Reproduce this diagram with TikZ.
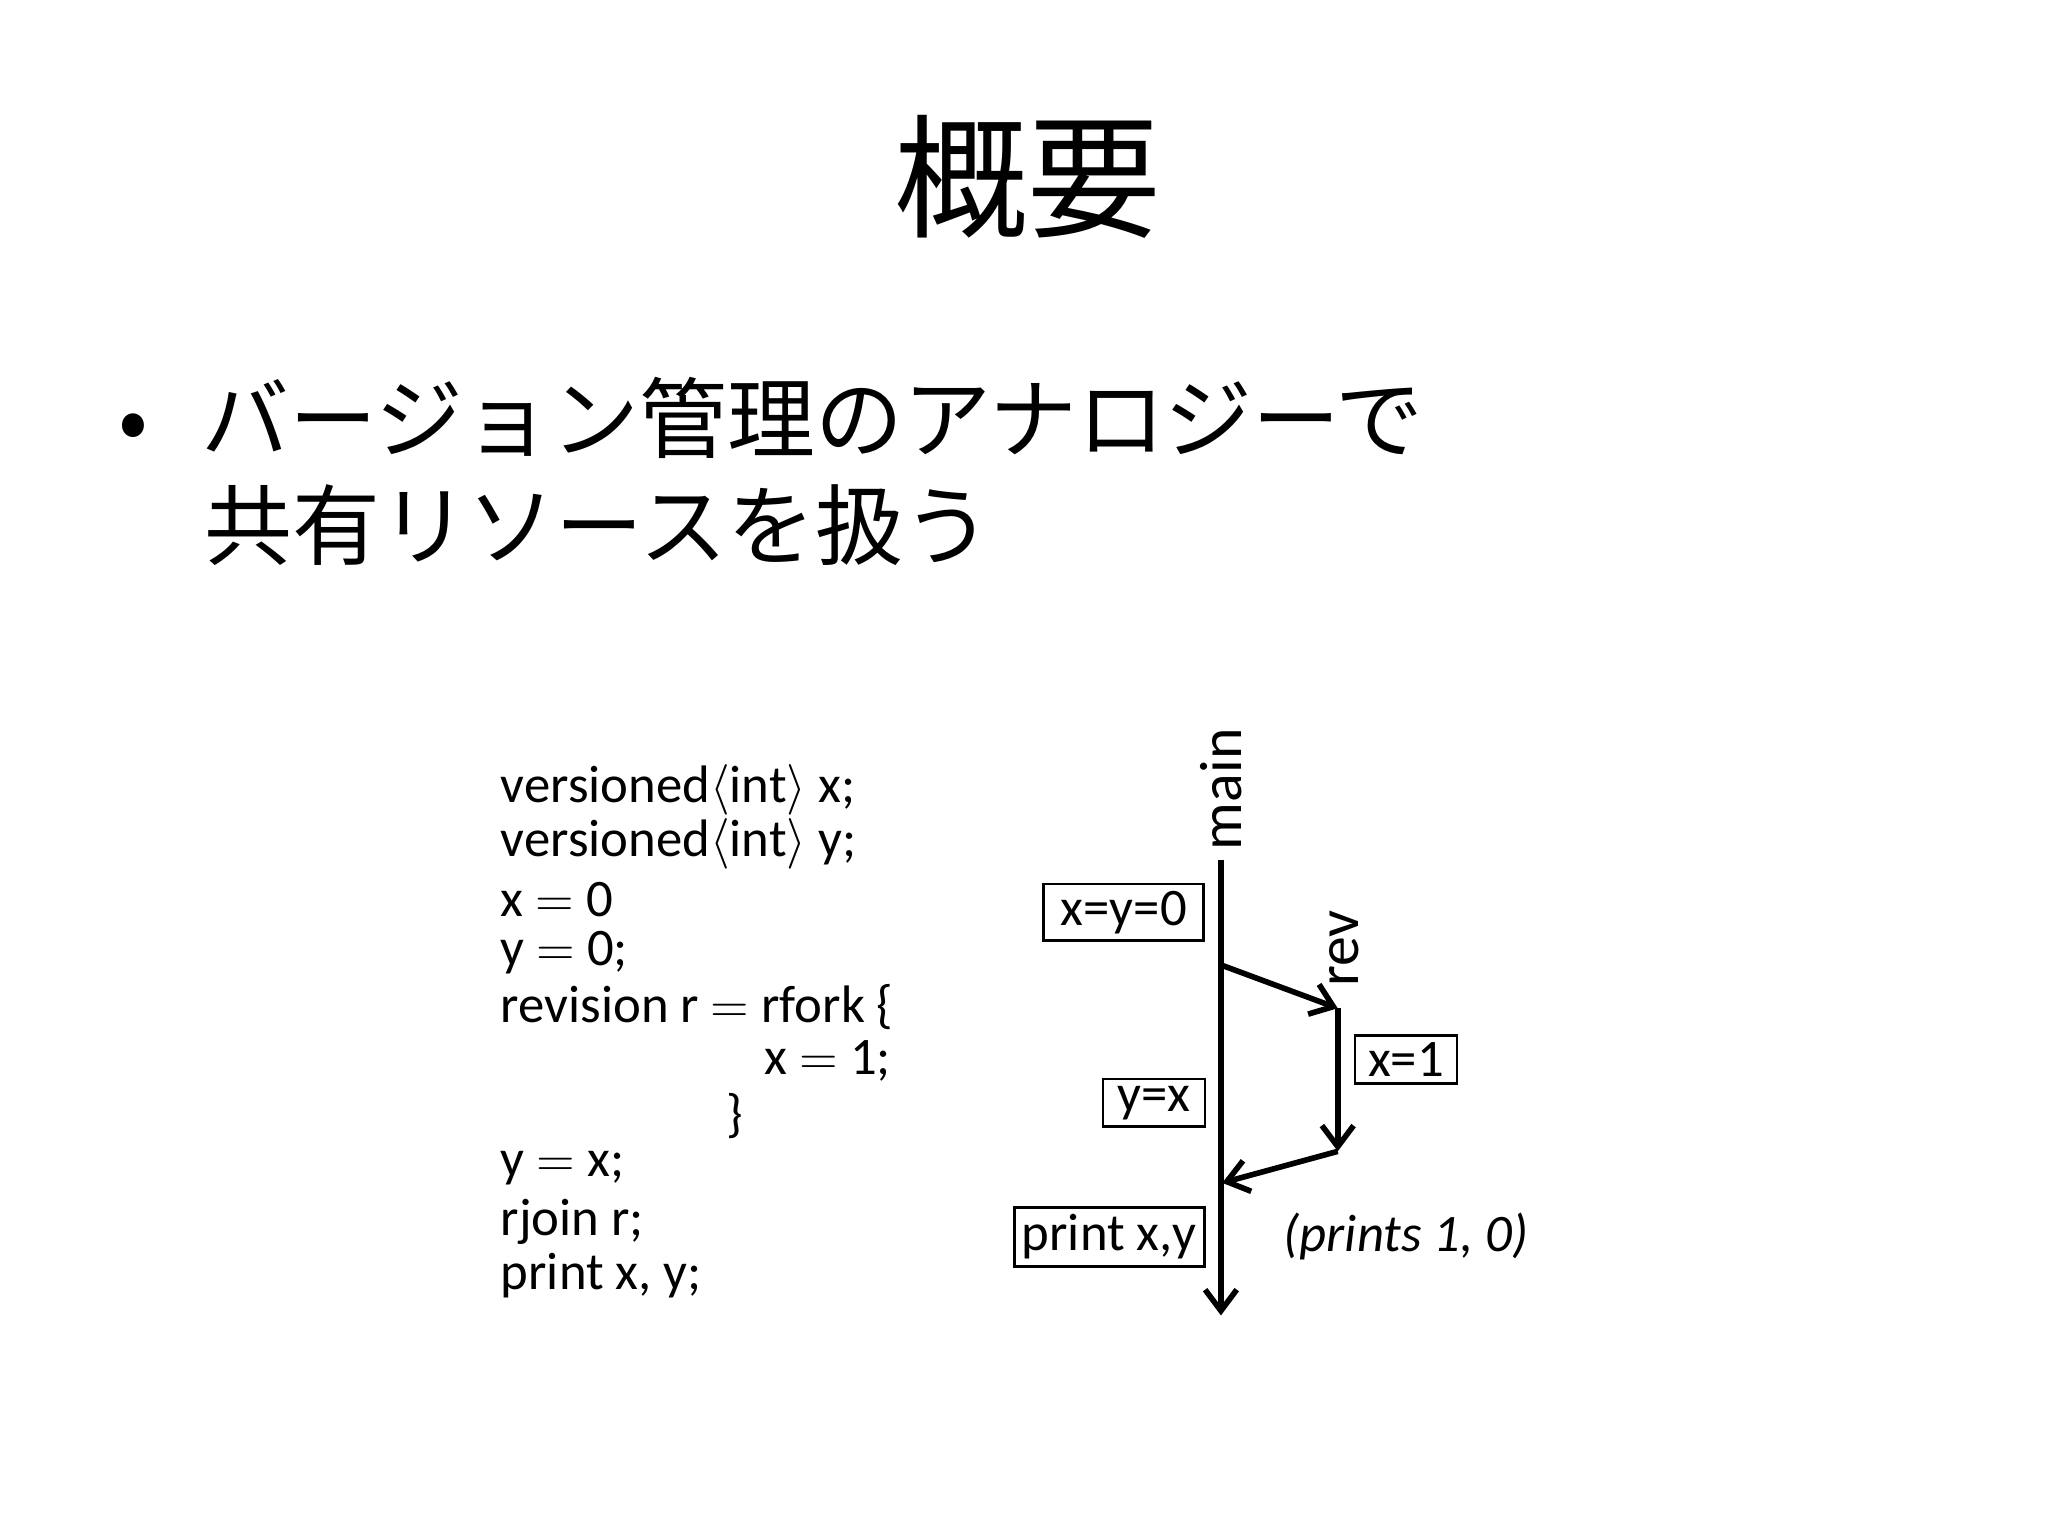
\documentclass[tikz,border=0pt]{standalone}
\usepackage{fontspec}
\setmainfont{Carlito}
\newfontfamily\cjk{Noto Sans CJK JP}
\usetikzlibrary{arrows.meta}
\begin{document}
\begin{tikzpicture}[x=0.013128cm,y=-0.013128cm,
  code/.style={anchor=west,font=\fontsize{15}{17}\selectfont,inner sep=0pt},
  lbl/.style={draw,thick,minimum height=0.43cm,inner sep=2pt,font=\fontsize{15}{17}\selectfont},
  flow/.style={line width=1.6pt,-{Straight Barb[length=6pt,width=9pt]}}]
\useasboundingbox (0,0) rectangle (1560,1170);
\node[font=\cjk\fontsize{38}{42}\selectfont] (title) at (783,135) {概要};
\node[anchor=west,font=\cjk\fontsize{25}{29}\selectfont,inner sep=0pt] (b1) at (90,318) {•\hspace{0.6em}バージョン管理のアナロジーで};
\node[anchor=west,font=\cjk\fontsize{25}{29}\selectfont,inner sep=0pt] (b2) at (155,400) {共有リソースを扱う};
\node[code] (c1) at (381,602) {versioned$\langle$int$\rangle$ x;};
\node[code] (c2) at (381,643) {versioned$\langle$int$\rangle$ y;};
\node[code] (c3) at (381,685) {x $=$ 0};
\node[code] (c4) at (381,726) {y $=$ 0;};
\node[code] (c5) at (381,767) {revision r $=$ rfork \{};
\node[code] (c6) at (582,808) {x $=$ 1;};
\node[code] (c7) at (553,850) {\}};
\node[code] (c8) at (381,890) {y $=$ x;};
\node[code] (c9) at (381,931) {rjoin r;};
\node[code] (c10) at (381,972) {print x, y;};
\coordinate (mtop) at (930,655);
\coordinate (mbot) at (930,1002);
\coordinate (fork) at (930,735);
\coordinate (rtop) at (1019,768);
\coordinate (rbot) at (1019,877);
\coordinate (join) at (931,901);
\node[rotate=90,anchor=west,font=\fontsize{17}{19}\selectfont,inner sep=0pt] (main) at (930,648) {main};
\node[rotate=90,anchor=west,font=\fontsize{17}{19}\selectfont,inner sep=0pt] (rev) at (1024,752) {rev};
\draw[flow] (mtop) -- (mbot);
\draw[flow] (fork) -- (rtop);
\draw[flow] (rtop) -- (rbot);
\draw[flow] (rbot) -- (join);
\node[lbl,minimum width=1.6cm] (b0) at (856,695) {x=y=0};
\node[lbl,minimum width=1.02cm] (bx) at (1071,807) {x=1};
\node[lbl,minimum width=1.02cm] (by) at (879,840) {y=x};
\node[lbl,minimum width=1.9cm] (bp) at (845,942) {print x,y};
\node[font=\itshape\fontsize{15}{17}\selectfont] (pr) at (1071,942) {(prints 1, 0)};
\end{tikzpicture}
\end{document}
